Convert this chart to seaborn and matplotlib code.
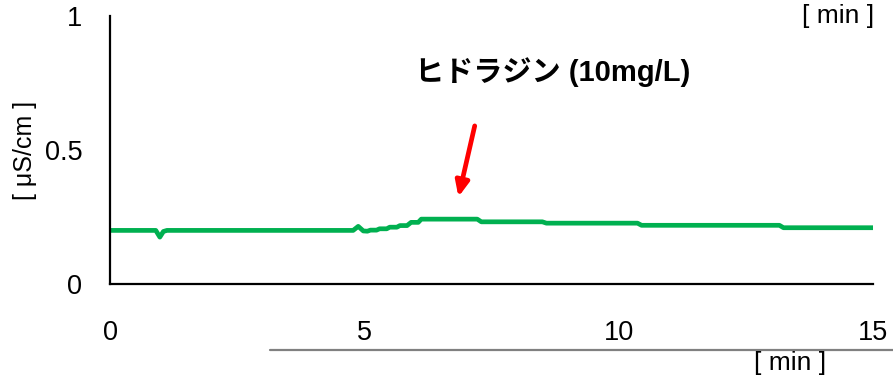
import matplotlib
matplotlib.use("Agg")
import matplotlib.pyplot as plt
from matplotlib.lines import Line2D
import seaborn as sns
import pandas as pd

# Conductivity trace (time in minutes, conductivity in µS/cm)
time_min = [0.0, 0.90, 0.98, 1.05, 1.12, 4.78, 4.88, 4.98, 5.06, 5.12, 5.24, 5.30,
            5.44, 5.50, 5.64, 5.70, 5.84, 5.92, 6.06, 6.12, 7.22, 7.30, 8.50, 8.58,
            10.37, 10.45, 13.16, 13.24, 15.0]
conductivity = [0.200, 0.200, 0.175, 0.196, 0.200, 0.200, 0.215, 0.198, 0.197, 0.201, 0.201, 0.206,
                0.206, 0.212, 0.212, 0.218, 0.218, 0.230, 0.230, 0.242, 0.242, 0.232, 0.232, 0.227,
                0.227, 0.219, 0.219, 0.210, 0.210]

x_ticks = [0, 5, 10, 15]
y_major = [0, 0.5]
y_minor = [1]

annotation = "ヒドラジン (10mg/L)"

sns.set_style("white")
plt.rcParams["font.family"] = ["Liberation Sans", "DejaVu Sans"]
plt.rcParams["text.color"] = "black"
plt.rcParams["axes.labelcolor"] = "black"
plt.rcParams["xtick.color"] = "black"
plt.rcParams["ytick.color"] = "black"

df = pd.DataFrame({"time": time_min, "value": conductivity})

fig = plt.figure(figsize=(8.93, 3.76), dpi=100)
ax = fig.add_axes([110 / 893, 1 - 284 / 376, 763 / 893, 268 / 376])

sns.lineplot(data=df, x="time", y="value", ax=ax, color="#00B050",
             linewidth=3.4, solid_capstyle="round", solid_joinstyle="round")

ax.set_xlim(0, 15)
ax.set_ylim(0, 1)
ax.set_xlabel("")
ax.set_ylabel("[ μS/cm ]", fontsize=18)
ax.yaxis.set_label_coords(-0.096, 0.5)

sns.despine(ax=ax)
for side in ("left", "bottom"):
    ax.spines[side].set_linewidth(1.6)
    ax.spines[side].set_color("black")

ax.set_xticks(x_ticks)
ax.set_xticklabels([str(t) for t in x_ticks], fontsize=19.5)
ax.tick_params(axis="x", direction="in", length=6, width=1.4, pad=26)

ax.set_yticks(y_major)
ax.set_yticklabels(["0", "0.5"], fontsize=19.5)
ax.set_yticks(y_minor, labels=["1"], minor=True)
ax.tick_params(axis="y", which="major", direction="out", length=2, width=1.4, pad=18)
ax.tick_params(axis="y", which="minor", direction="in", length=6, width=1.4, pad=20,
               labelsize=19.5)

# Dosing marker
ax.annotate("", xy=(6.85, 0.325), xytext=(7.17, 0.59),
            arrowprops=dict(arrowstyle="-|>,head_length=0.9,head_width=0.4",
                            color="#FF0000", lw=3.4, shrinkA=0, shrinkB=0))
ax.text(8.7, 0.79, annotation, fontsize=21, fontweight="bold",
        family=["Liberation Sans", "Noto Sans CJK JP"], ha="center", va="center")

# Time unit labels and secondary rule
fig.text(838 / 893, 0.957, "[ min ]", fontsize=19, ha="center", va="center")
fig.add_artist(Line2D([270 / 893, 1.0], [1 - 350 / 376, 1 - 350 / 376],
                      color="#808080", lw=1.6))
fig.text(790 / 893, 1 - 363 / 376, "[ min ]", fontsize=19, ha="center", va="center")

fig.savefig("out.png", dpi=100)
